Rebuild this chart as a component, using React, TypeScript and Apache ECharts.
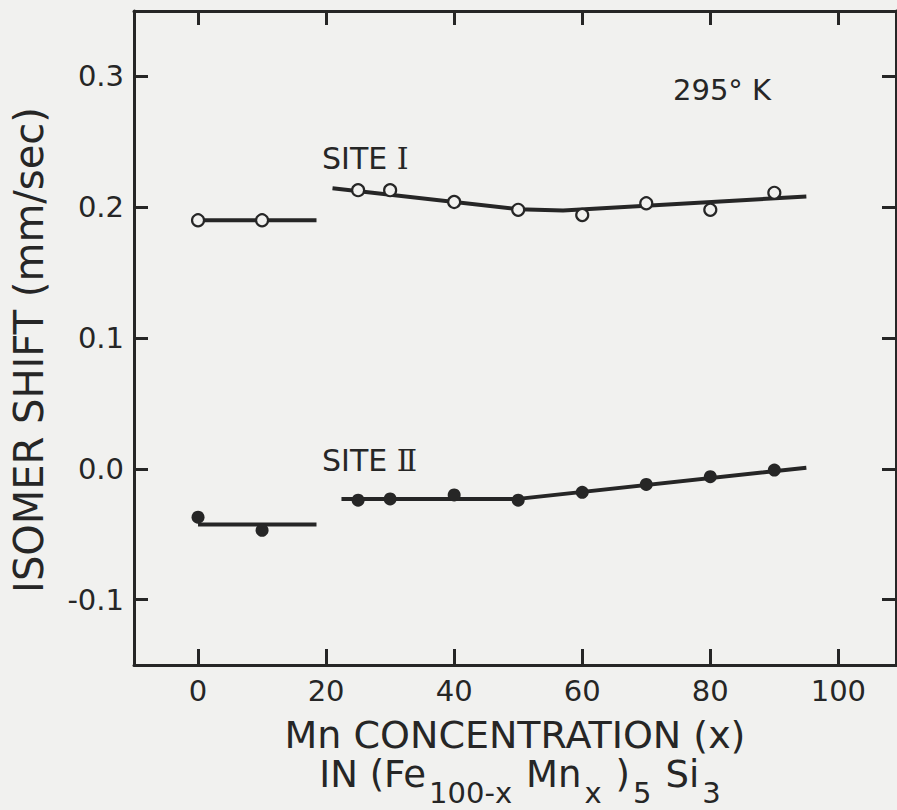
import React, { useEffect, useRef } from "react";
import * as echarts from "echarts";

// ---- data ----
const concX: number[] = [0, 10, 25, 30, 40, 50, 60, 70, 80, 90];
const siteIShift: number[] = [0.19, 0.19, 0.213, 0.213, 0.204, 0.198, 0.194, 0.203, 0.198, 0.211];
const siteIIShift: number[] = [-0.037, -0.047, -0.024, -0.023, -0.02, -0.024, -0.018, -0.012, -0.006, -0.001];

// drawn curves (hand-fitted in the original figure)
const siteIFitAx: number[] = [0, 18.5];
const siteIFitAy: number[] = [0.19, 0.19];
const siteIFitBx: number[] = [21, 50, 57, 95];
const siteIFitBy: number[] = [0.2145, 0.1985, 0.1975, 0.2082];
const siteIIFitAx: number[] = [0, 18.5];
const siteIIFitAy: number[] = [-0.0425, -0.0425];
const siteIIFitBx: number[] = [22.4, 50, 95];
const siteIIFitBy: number[] = [-0.023, -0.023, 0.0008];

const xTicks: number[] = [0, 20, 40, 60, 80, 100];
const yTicks: number[] = [-0.1, 0, 0.1, 0.2, 0.3];

const INK = "#262626";
const BG = "#f1f1ef";
const FONT = "'DejaVu Sans', sans-serif";
const NUMERAL_FONT = "'DejaVu Serif', 'Liberation Serif', serif";

const pairs = (xs: number[], ys: number[]) => xs.map((x, i) => [x, ys[i]]);

export default function App() {
  const ref = useRef<HTMLDivElement>(null);
  useEffect(() => {
    if (!ref.current) return;
    const chart = echarts.init(ref.current, undefined, { renderer: "svg" });
    const axisLine = { show: true, onZero: false, lineStyle: { color: INK, width: 3 } };
    const fitLine = (name: string, xs: number[], ys: number[]) => ({
      name,
      type: "line",
      data: pairs(xs, ys),
      showSymbol: false,
      symbol: "none",
      lineStyle: { color: INK, width: 4 },
      z: 2,
    });
    const siteLabel = (x: number, y: number, numeral: string) => ({
      type: "text",
      x,
      y,
      style: {
        text: `{a|SITE }{b|${numeral}}`,
        fill: INK,
        align: "left",
        verticalAlign: "middle",
        rich: {
          a: { fontSize: 30, fontFamily: FONT, fill: INK, verticalAlign: "middle", lineHeight: 34 },
          b: { fontSize: 30, fontFamily: NUMERAL_FONT, fill: INK, verticalAlign: "middle", lineHeight: 34 },
        },
      },
    });
    chart.setOption({
      animation: false,
      backgroundColor: BG,
      grid: { left: 134, top: 11, right: 1, bottom: 145 },
      xAxis: [
        {
          type: "value",
          position: "bottom",
          min: -10,
          max: 109,
          axisLine,
          splitLine: { show: false },
          axisTick: { show: true, inside: true, length: 16, customValues: xTicks, lineStyle: { color: INK, width: 3 } },
          axisLabel: { show: true, customValues: xTicks, fontSize: 29, fontFamily: FONT, color: INK, margin: 11 },
        },
        {
          type: "value",
          position: "top",
          min: -10,
          max: 109,
          axisLine,
          splitLine: { show: false },
          axisTick: { show: true, inside: true, length: 14, customValues: xTicks, lineStyle: { color: INK, width: 3 } },
          axisLabel: { show: false },
        },
      ],
      yAxis: [
        {
          type: "value",
          position: "left",
          min: -0.15,
          max: 0.35,
          axisLine,
          splitLine: { show: false },
          axisTick: { show: true, inside: true, length: 14, customValues: yTicks, lineStyle: { color: INK, width: 3 } },
          axisLabel: {
            show: true,
            customValues: yTicks,
            fontSize: 29,
            fontFamily: FONT,
            color: INK,
            margin: 10,
            formatter: (v: number) => (Math.abs(v) < 1e-9 ? "0.0" : v.toFixed(1)),
          },
        },
        {
          type: "value",
          position: "right",
          min: -0.15,
          max: 0.35,
          axisLine,
          splitLine: { show: false },
          axisTick: { show: true, inside: true, length: 14, customValues: yTicks, lineStyle: { color: INK, width: 3 } },
          axisLabel: { show: false },
        },
      ],
      series: [
        fitLine("Site I fit a", siteIFitAx, siteIFitAy),
        fitLine("Site I fit b", siteIFitBx, siteIFitBy),
        fitLine("Site II fit a", siteIIFitAx, siteIIFitAy),
        fitLine("Site II fit b", siteIIFitBx, siteIIFitBy),
        {
          name: "Site I",
          type: "scatter",
          data: pairs(concX, siteIShift),
          symbol: "circle",
          symbolSize: 12,
          itemStyle: { color: BG, borderColor: INK, borderWidth: 2.2, opacity: 1 },
          z: 5,
        },
        {
          name: "Site II",
          type: "scatter",
          data: pairs(concX, siteIIShift),
          symbol: "circle",
          symbolSize: 13,
          itemStyle: { color: INK, opacity: 1 },
          z: 5,
        },
      ],
      graphic: [
        {
          type: "text",
          x: 29,
          y: 350,
          rotation: Math.PI / 2,
          style: {
            text: "ISOMER SHIFT (mm/sec)",
            fontSize: 40,
            fontFamily: FONT,
            fill: INK,
            align: "center",
            verticalAlign: "middle",
          },
        },
        {
          type: "text",
          x: 515,
          y: 735,
          style: {
            text: "Mn CONCENTRATION (x)",
            fontSize: 38,
            fontFamily: FONT,
            fill: INK,
            align: "center",
            verticalAlign: "middle",
          },
        },
        {
          type: "text",
          x: 527,
          y: 756,
          style: {
            text: "{m|IN (Fe}{s|100-x}{m|Mn}{s|x}{m|)}{s|5}{m|Si}{s|3}",
            fill: INK,
            align: "center",
            verticalAlign: "top",
            rich: {
              m: { fontSize: 37, fontFamily: FONT, fill: INK, lineHeight: 42, verticalAlign: "top" },
              s: { fontSize: 29, fontFamily: FONT, fill: INK, lineHeight: 28, verticalAlign: "top", padding: [22, 14, 0, 3] },
            },
          },
        },
        {
          type: "text",
          x: 673,
          y: 90,
          style: { text: "295° K", fontSize: 29, fontFamily: FONT, fill: INK, align: "left", verticalAlign: "middle" },
        },
        siteLabel(322, 158, "Ⅰ"),
        siteLabel(322, 460, "Ⅱ"),
      ],
    });
    return () => chart.dispose();
  }, []);
  return (
    <div style={{ position: "absolute", left: 0, top: 0, width: 897, height: 810, background: BG }}>
      <div ref={ref} style={{ width: 897, height: 810 }} />
    </div>
  );
}
